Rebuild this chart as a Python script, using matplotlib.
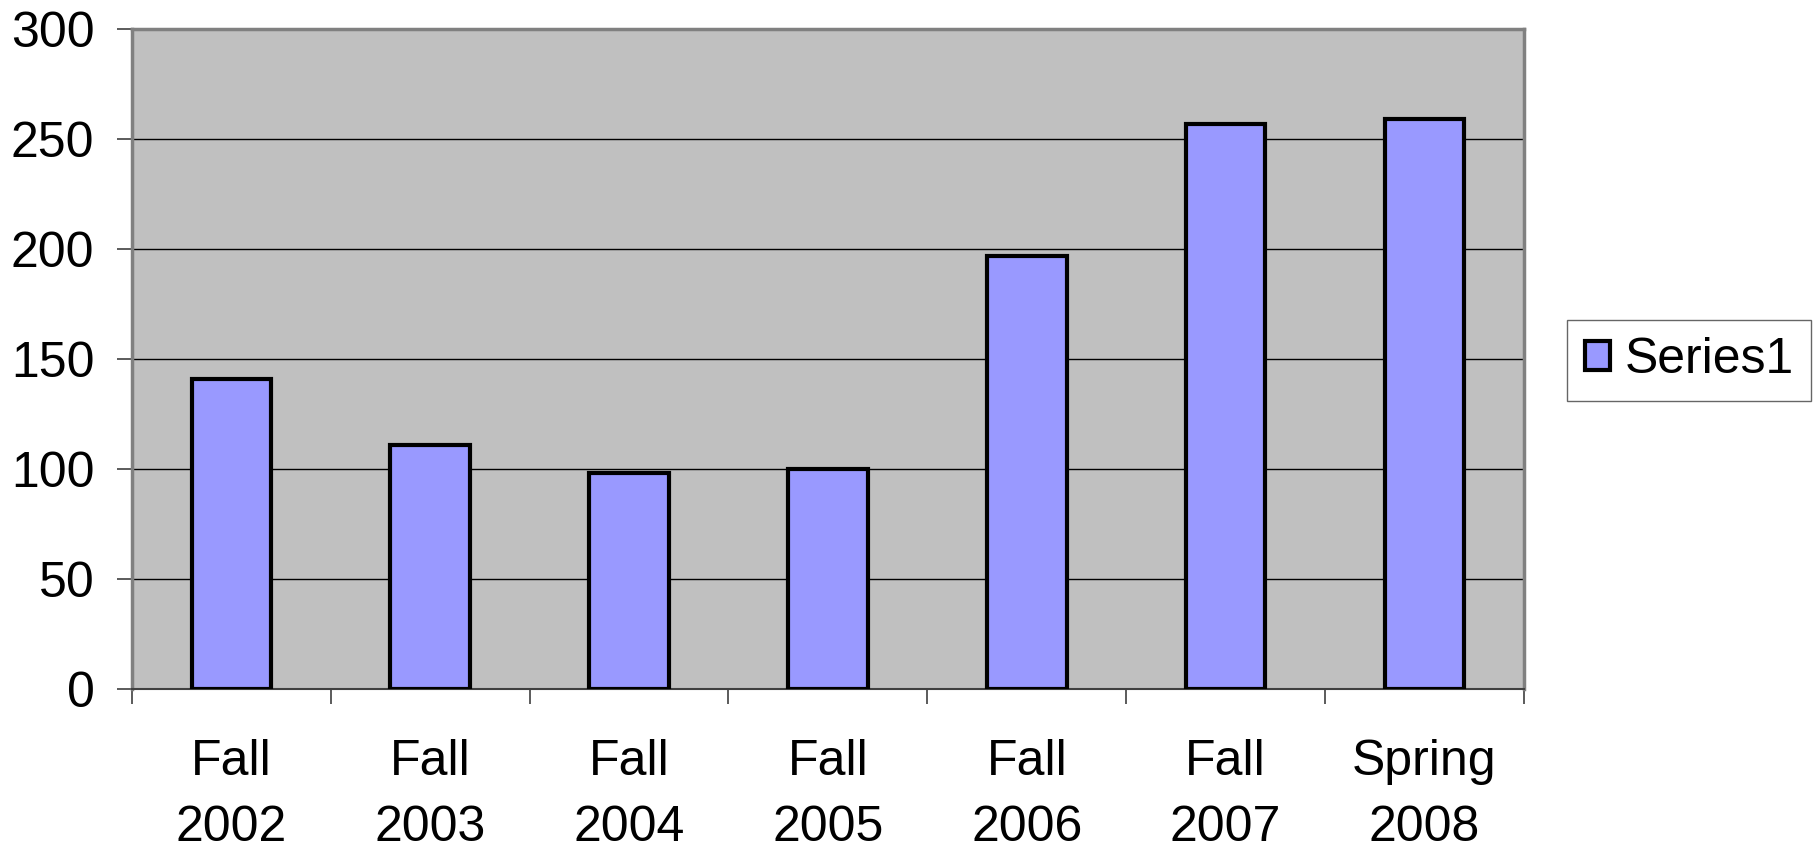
import matplotlib

matplotlib.use("Agg")
import matplotlib.pyplot as plt
from matplotlib.ticker import FixedLocator, NullFormatter

plt.rcParams["font.family"] = ["Liberation Sans", "DejaVu Sans"]

semesters = ["Fall\n2002", "Fall\n2003", "Fall\n2004", "Fall\n2005",
             "Fall\n2006", "Fall\n2007", "Spring\n2008"]
series1 = [141, 111, 98, 100, 197, 257, 259]
y_ticks = [0, 50, 100, 150, 200, 250, 300]

fig = plt.figure(figsize=(18.17, 8.49), dpi=100)
ax = fig.add_axes([0.0726, 0.1885, 0.8387 - 0.0726, 0.9658 - 0.1885])
ax.set_facecolor("#C0C0C0")

x = list(range(len(semesters)))
ax.bar(x, series1, width=0.4, color="#9999FF", edgecolor="black",
       linewidth=3, label="Series1", zorder=3)

ax.set_xlim(-0.5, len(semesters) - 0.5)
ax.set_ylim(0, 300)
ax.set_yticks(y_ticks)
ax.yaxis.grid(True, color="black", linewidth=1)
ax.set_axisbelow(True)

# category labels centred, tick marks on the category boundaries
ax.set_xticks(x)
ax.set_xticklabels(semesters, fontsize=36, linespacing=1.55)
ax.tick_params(axis="x", which="major", length=0, pad=36)
ax.xaxis.set_minor_locator(FixedLocator([i - 0.5 for i in range(len(semesters) + 1)]))
ax.xaxis.set_minor_formatter(NullFormatter())
ax.tick_params(axis="x", which="minor", length=11, width=1.2, color="#404040")
ax.tick_params(axis="y", labelsize=36, length=11, width=1.2, color="#404040", pad=16)

for side in ["top", "left", "right"]:
    ax.spines[side].set_color("#808080")
    ax.spines[side].set_linewidth(2.5)
ax.spines["bottom"].set_color("#404040")
ax.spines["bottom"].set_linewidth(1.5)

leg = ax.legend(loc="center left", bbox_to_anchor=(1.031, 0.498), fontsize=36,
                frameon=True, fancybox=False, edgecolor="#404040",
                handlelength=0.5, handleheight=0.5, handletextpad=0.3,
                borderpad=0.35, borderaxespad=0)
leg.get_frame().set_linewidth(1)

fig.savefig("out.png", dpi=100)
